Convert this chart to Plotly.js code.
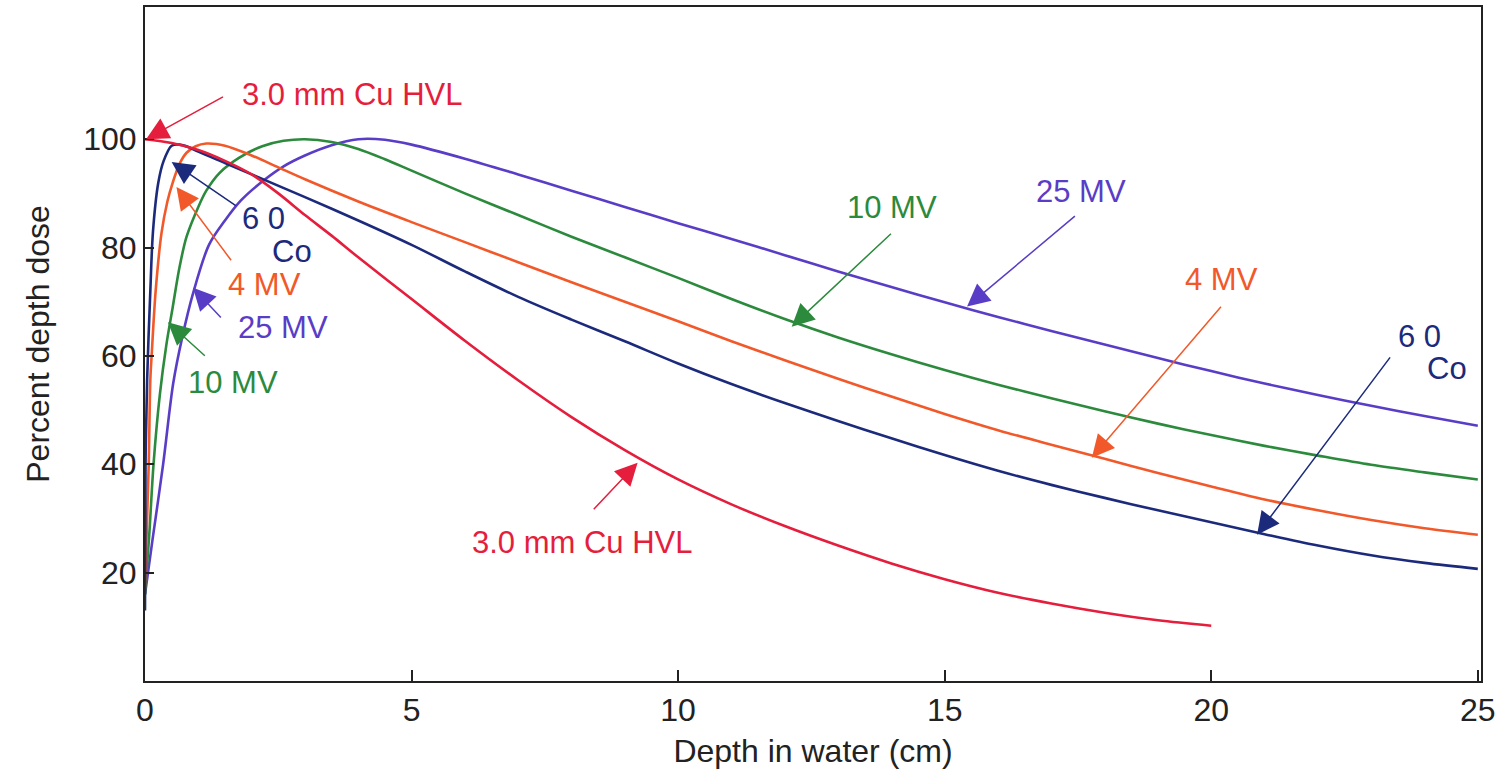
<!DOCTYPE html>
<html>
<head>
<meta charset="utf-8">
<script src="https://cdn.plot.ly/plotly-3.0.1.min.js"></script>
<style>html,body{margin:0;padding:0;background:#fff;}#chart{width:1498px;height:775px;}</style>
</head>
<body>
<div id="chart"></div>
<script>
// Depth (cm) and percent depth dose for each beam
const hvlDepth = [0, 0.5, 1, 1.5, 2, 2.5, 3, 3.5, 4, 5, 6, 7, 8, 9, 10, 11, 12, 13, 14, 15, 16, 17, 18, 19, 20];
const hvlDose  = [100, 99.3, 98, 96, 93.5, 90, 86, 82.2, 78.2, 70.5, 62.8, 55.5, 48.7, 42.6, 37.2, 32.6, 28.6, 25, 21.7, 18.8, 16.3, 14.3, 12.6, 11.2, 10.2];

const coDepth = [0, 0.01, 0.04, 0.1, 0.15, 0.25, 0.35, 0.5, 0.65, 0.8, 1, 1.5, 2, 3, 4, 5, 6, 7, 8, 9, 10, 11, 12, 13, 14, 15, 16, 17, 18, 19, 20, 21, 22, 23, 24, 25];
const coDose  = [13, 40, 55.6, 72, 83, 92, 96, 98.8, 99, 98.6, 97.7, 95.6, 93.5, 89.3, 85, 80.5, 75.6, 70.9, 66.7, 62.7, 58.6, 54.8, 51.3, 48, 44.8, 41.7, 38.8, 36.2, 33.8, 31.5, 29.3, 27.1, 25, 23.2, 21.8, 20.7];

const mv4Depth = [0, 0.07, 0.1, 0.13, 0.2, 0.31, 0.42, 0.52, 0.65, 0.78, 0.95, 1.15, 1.5, 2, 2.5, 3, 4, 5, 6, 7, 8, 9, 10, 11, 12, 13, 14, 15, 16, 17, 18, 19, 20, 21, 22, 23, 24, 25];
const mv4Dose  = [17, 40, 55.6, 61, 72, 82.7, 88.5, 92, 95.5, 97.5, 98.7, 99.2, 98.8, 97, 94.8, 92.6, 88.5, 84.7, 81, 77.3, 73.6, 70, 66.4, 62.7, 59.2, 55.8, 52.5, 49.3, 46.3, 43.6, 41, 38.4, 35.9, 33.5, 31.5, 29.7, 28.2, 27];

const mv10Depth = [0, 0.08, 0.16, 0.28, 0.4, 0.52, 0.65, 0.78, 1, 1.15, 1.4, 1.77, 2.2, 2.6, 3, 3.5, 4, 4.5, 5, 6, 7, 8, 9, 10, 11, 12, 13, 14, 15, 16, 17, 18, 19, 20, 21, 22, 23, 24, 25];
const mv10Dose  = [16, 27, 40, 53, 62, 69, 76.5, 82, 87.5, 90.5, 93.8, 96.6, 98.7, 99.7, 100, 99.5, 98.2, 96.3, 94.2, 90, 86, 82, 78.2, 74.4, 70.5, 66.8, 63.4, 60.3, 57.4, 54.7, 52.2, 49.8, 47.5, 45.4, 43.4, 41.6, 39.9, 38.5, 37.2];

const mv25Depth = [0, 0.14, 0.34, 0.53, 0.7, 0.9, 1.2, 1.5, 1.8, 2.2, 2.6, 3, 3.5, 4, 4.5, 5, 6, 7, 8, 9, 10, 11, 12, 13, 14, 15, 16, 17, 18, 19, 20, 21, 22, 23, 24, 25];
const mv25Dose  = [16, 26, 40, 55, 63.5, 71.5, 80.5, 85, 88.7, 92.2, 95, 97, 98.9, 100, 99.9, 99, 96.4, 93.5, 90.5, 87.5, 84.5, 81.6, 78.6, 75.6, 72.7, 69.9, 67.2, 64.6, 62.1, 59.6, 57.2, 54.9, 52.8, 50.8, 48.9, 47.1];

const xTicks = [0, 5, 10, 15, 20, 25];
const yTicks = [20, 40, 60, 80, 100];

const C = {
  red: '#e41e3c',
  orange: '#f1592a',
  green: '#2c8a3d',
  purple: '#5a3dc6',
  navy: '#1c2a7c'
};

function line(x, y, color, name) {
  return {x: x, y: y, type: 'scatter', mode: 'lines', name: name,
          line: {color: color, width: 2.6, shape: 'spline', smoothing: 0.9},
          hoverinfo: 'skip'};
}

const traces = [
  line(mv25Depth, mv25Dose, C.purple, '25 MV'),
  line(mv10Depth, mv10Dose, C.green, '10 MV'),
  line(mv4Depth, mv4Dose, C.orange, '4 MV'),
  line(coDepth, coDose, C.navy, '60Co'),
  line(hvlDepth, hvlDose, C.red, '3.0 mm Cu HVL')
];

const FONT = 'Liberation Sans, Arial, Helvetica, sans-serif';

// label text annotations: [text, x, y, color]
const labels = [
  ['3.0 mm Cu HVL', 3.90, 108.2, C.red],
  ['3.0 mm Cu HVL', 8.21, 25.6, C.red],
  ['6 0', 2.23, 85.3, C.navy],
  ['Co', 2.75, 79.2, C.navy],
  ['4 MV', 2.25, 73.2, C.orange],
  ['25 MV', 2.58, 65.2, C.purple],
  ['10 MV', 1.65, 55.1, C.green],
  ['10 MV', 14.01, 87.4, C.green],
  ['25 MV', 17.55, 90.3, C.purple],
  ['4 MV', 20.20, 74.1, C.orange],
  ['6 0', 23.90, 63.6, C.navy],
  ['Co', 24.42, 57.7, C.navy]
];

// arrows: [tipX, tipY, tailX, tailY, color]
const arrows = [
  [0.02, 100, 1.50, 108.0, C.red],
  [9.24, 40.3, 8.38, 31.3, C.red],
  [0.50, 95.8, 1.74, 87.5, C.navy],
  [0.59, 91.2, 1.65, 77.2, C.orange],
  [0.90, 72.6, 1.46, 66.7, C.purple],
  [0.43, 66.2, 1.16, 59.7, C.green],
  [12.13, 65.4, 14.03, 82.9, C.green],
  [15.42, 69.1, 17.48, 86.1, C.purple],
  [17.76, 41.2, 20.22, 69.5, C.orange],
  [20.86, 27.0, 23.39, 60.2, C.navy]
];

const annotations = [];
labels.forEach(l => {
  annotations.push({text: l[0], x: l[1], y: l[2], xref: 'x', yref: 'y',
    showarrow: false, xanchor: 'center', yanchor: 'middle',
    font: {family: FONT, size: 31, color: l[3]}});
});
arrows.forEach(a => {
  annotations.push({text: ' ', x: a[0], y: a[1], ax: a[2], ay: a[3],
    xref: 'x', yref: 'y', axref: 'x', ayref: 'y',
    showarrow: true, arrowhead: 2, arrowsize: 3, arrowwidth: 1.5,
    arrowcolor: a[4], standoff: 0, startstandoff: 0,
    font: {size: 2, color: a[4]}});
});

const layout = {
  width: 1498, height: 775,
  margin: {l: 145, r: 17, t: 7, b: 94},
  paper_bgcolor: '#ffffff', plot_bgcolor: '#ffffff',
  showlegend: false,
  font: {family: FONT, color: '#222'},
  xaxis: {
    range: [0, 25.06], tickvals: xTicks, ticktext: xTicks.map(String),
    ticks: 'inside', ticklen: 11, tickwidth: 2, tickcolor: '#222',
    showline: true, linewidth: 2, linecolor: '#222', mirror: true,
    showgrid: false, zeroline: false,
    tickfont: {size: 32, color: '#222'},
    title: {text: 'Depth in water (cm)', font: {size: 32, color: '#222'}, standoff: 12}
  },
  yaxis: {
    range: [0, 124.4], tickvals: yTicks, ticktext: yTicks.map(String),
    ticks: 'inside', ticklen: 9, tickwidth: 2, tickcolor: '#222',
    showline: true, linewidth: 2, linecolor: '#222', mirror: true,
    showgrid: false, zeroline: false,
    tickfont: {size: 32, color: '#222'},
    title: {text: 'Percent depth dose', font: {size: 32, color: '#222'}, standoff: 24}
  },
  annotations: annotations
};

Plotly.newPlot('chart', traces, layout, {staticPlot: true, displayModeBar: false});
</script>
</body>
</html>
